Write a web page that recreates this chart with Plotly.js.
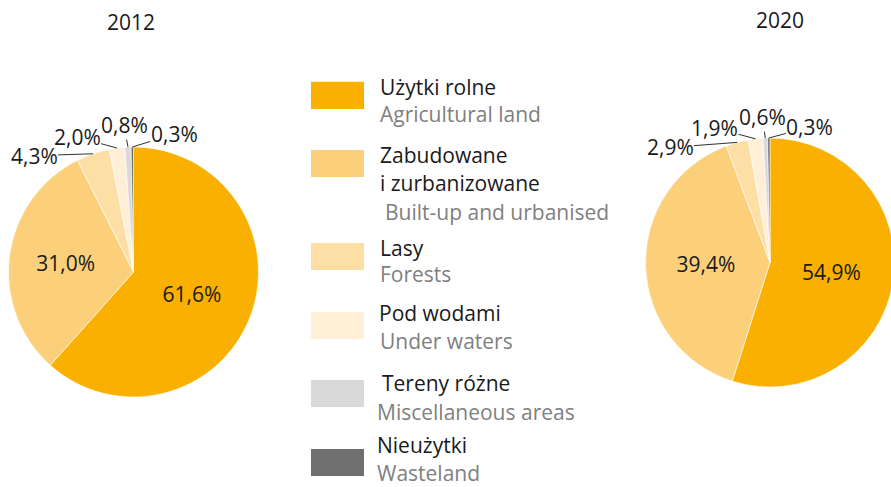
<!DOCTYPE html>
<html><head><meta charset="utf-8">
<script src="https://cdn.plot.ly/plotly-3.0.1.min.js"></script>
<style>html,body{margin:0;padding:0;overflow:hidden;background:#fff}</style>
</head><body><div id="chart" style="width:896px;height:487px"></div>
<script>
// ---- data ----
const years = ["2012", "2020"];
const categoriesPL = ["Użytki rolne", "Zabudowane<br>i zurbanizowane", "Lasy", "Pod wodami", "Tereny różne", "Nieużytki"];
const categoriesEN = ["Agricultural land", "Built-up and urbanised", "Forests", "Under waters", "Miscellaneous areas", "Wasteland"];
const values2012 = [61.6, 31.0, 4.3, 2.0, 0.8, 0.3];
const values2020 = [54.9, 39.4, 2.9, 1.9, 0.6, 0.3];

// ---- style / layout ----
const colors = ["#F9B000", "#FCD07B", "#FDDFA6", "#FEEFD6", "#D9D9D9", "#6F6F6F"];
const W = 896, H = 487;
const FONT = "Open Sans, Noto Sans, sans-serif";
const FS = 21;
const pies = [
  {values: values2012, cx: 133.5, cy: 272, r: 125, titleX: 131, titleY: 22,
   offsets: [null, null, [-59, 2], [-40, -11], [-4, -22], [42, -13]]},
  {values: values2020, cx: 770, cy: 262.5, r: 124.5, titleX: 780, titleY: 20,
   offsets: [null, null, [-67, 5], [-41, -11], [-3, -21], [41, -11]]}
];
const legendSw = {x0: 311, x1: 364};
const legendSwY = [[81.7, 109], [150, 177], [243, 270], [312, 339], [380, 407], [449, 476]];
const legendPLX = [379, 379, 379, 378, 381, 376];
const legendPLY = [[86.7], [155, 183], [247.7], [312.7], [383], [445]];
const legendENX = [379, 384, 379, 379, 376, 376];
const legendENY = [114, 212, 274, 341, 411.7, 473];

const fmt = v => v.toFixed(1).replace('.', ',') + '%';
const px2x = x => x / W;
const px2y = y => 1 - y / H;

const traces = [];
const annotations = [];
const shapes = [];

pies.forEach((p, k) => {
  const labels = p.values.map(fmt);
  traces.push({
    type: 'pie',
    values: p.values,
    labels: categoriesEN,
    text: labels,
    textinfo: 'text',
    textposition: p.values.map((v, i) => p.offsets[i] ? 'none' : 'inside'),
    insidetextorientation: 'horizontal',
    insidetextfont: {family: FONT, size: FS, color: '#1a1a1a'},
    marker: {colors: colors, line: {color: '#ffffff', width: 0.6}},
    sort: false,
    direction: 'clockwise',
    rotation: 0,
    hoverinfo: 'none',
    showlegend: false,
    domain: {
      x: [px2x(p.cx - p.r), px2x(p.cx + p.r)],
      y: [px2y(p.cy + p.r), px2y(p.cy - p.r)]
    }
  });
  // title
  annotations.push({
    text: years[k], xref: 'paper', yref: 'paper', x: px2x(p.titleX), y: px2y(p.titleY),
    xanchor: 'center', yanchor: 'middle', showarrow: false,
    font: {family: FONT, size: FS, color: '#1a1a1a'}
  });
  // leader-line labels for small slices
  const tot = p.values.reduce((a, b) => a + b, 0);
  let cum = 0;
  p.values.forEach((v, i) => {
    const mid = (cum + v / 2) / tot * 2 * Math.PI;
    cum += v;
    if (!p.offsets[i]) return;
    const x = p.cx + p.r * Math.sin(mid);
    const y = p.cy - p.r * Math.cos(mid);
    annotations.push({
      text: labels[i], xref: 'paper', yref: 'paper', x: px2x(x), y: px2y(y),
      showarrow: true, arrowhead: 0, arrowwidth: 0.9, arrowcolor: '#1a1a1a',
      ax: p.offsets[i][0], ay: p.offsets[i][1], standoff: 0, borderpad: 0,
      font: {family: FONT, size: FS, color: '#1a1a1a'}
    });
  });
});

// custom legend
categoriesPL.forEach((c, i) => {
  shapes.push({
    type: 'rect', xref: 'paper', yref: 'paper',
    x0: px2x(legendSw.x0), x1: px2x(legendSw.x1),
    y0: px2y(legendSwY[i][1]), y1: px2y(legendSwY[i][0]),
    fillcolor: colors[i], line: {width: 0}
  });
  c.split('<br>').forEach((line, j) => {
    annotations.push({
      text: line, xref: 'paper', yref: 'paper', x: px2x(legendPLX[i]), y: px2y(legendPLY[i][j]),
      xanchor: 'left', yanchor: 'middle', showarrow: false, borderpad: 0,
      font: {family: FONT, size: FS, color: '#1a1a1a'}
    });
  });
  annotations.push({
    text: categoriesEN[i], xref: 'paper', yref: 'paper', x: px2x(legendENX[i]), y: px2y(legendENY[i]),
    xanchor: 'left', yanchor: 'middle', showarrow: false, borderpad: 0,
    font: {family: FONT, size: FS, color: '#808080'}
  });
});

Plotly.newPlot('chart', traces, {
  width: W, height: H,
  margin: {l: 0, r: 0, t: 0, b: 0},
  paper_bgcolor: '#ffffff', plot_bgcolor: '#ffffff',
  annotations: annotations, shapes: shapes,
  font: {family: FONT}
}, {staticPlot: true, displayModeBar: false});
</script></body></html>
